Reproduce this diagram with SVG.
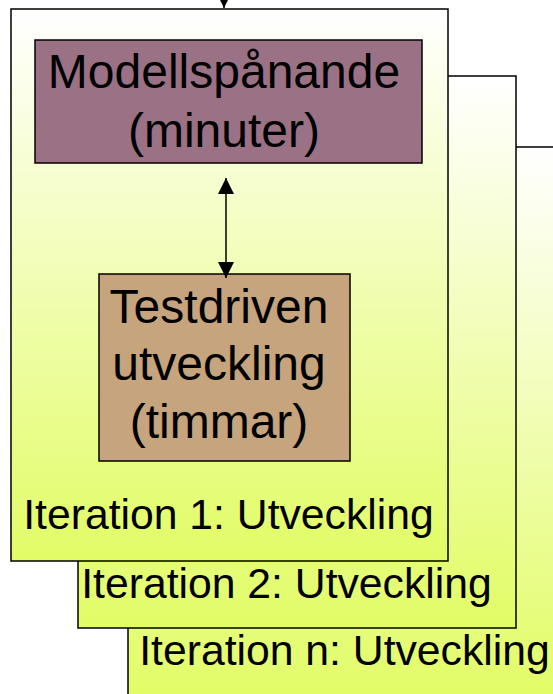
<svg xmlns="http://www.w3.org/2000/svg" width="553" height="694" viewBox="0 0 553 694">
<style>
.it{fill:url(#g);stroke:#000;stroke-width:1.5}
.t{font-family:"Liberation Sans",Arial,sans-serif;fill:#000;text-anchor:middle}
.c{stroke:#000;stroke-width:1.5;fill:none}
</style>
<defs>
<linearGradient id="g" x1="0" y1="0" x2="0" y2="1">
<stop offset="0" stop-color="#ffffff"/>
<stop offset="1" stop-color="#e2fc66"/>
</linearGradient>
<marker id="ah" viewBox="0 0 10 10" refX="10" refY="5" markerWidth="10" markerHeight="10" markerUnits="userSpaceOnUse" orient="auto-start-reverse">
<path d="M0,0 L10,5 L0,10 Z" fill="#000"/>
</marker>
<marker id="ah2" viewBox="0 0 16 16" refX="16" refY="8" markerWidth="16" markerHeight="16" markerUnits="userSpaceOnUse" orient="auto-start-reverse">
<path d="M0,0 L16,8 L0,16 Z" fill="#000"/>
</marker>
</defs>
<rect width="553" height="694" fill="#fff"/>
<g id="iteration-n">
<rect class="it" x="128" y="147" width="440" height="552"/>
<text class="t" x="344.5" y="665" font-size="42.7">Iteration n: Utveckling</text>
</g>
<g id="iteration-2">
<rect class="it" x="78" y="76" width="438" height="552"/>
<text class="t" x="286.5" y="598" font-size="42.7">Iteration 2: Utveckling</text>
</g>
<g id="iteration-1">
<rect class="it" x="11" y="9" width="437" height="552"/>
<text class="t" x="228.5" y="529" font-size="42.7">Iteration 1: Utveckling</text>
</g>
<g id="modellspanande">
<rect x="35" y="40" width="387" height="123" fill="#9b7186" stroke="#000" stroke-width="1.5"/>
<text class="t" x="224" y="88" font-size="48">Modellspånande</text>
<text class="t" x="224" y="147" font-size="48">(minuter)</text>
</g>
<g id="testdriven">
<rect x="99" y="274" width="251" height="187" fill="#c5a47e" stroke="#000" stroke-width="1.5"/>
<text class="t" x="219" y="323" font-size="48">Testdriven</text>
<text class="t" x="219" y="380" font-size="48">utveckling</text>
<text class="t" x="219" y="438" font-size="48">(timmar)</text>
</g>
<g id="connectors">
<line class="c" x1="224" y1="-20" x2="224" y2="8" marker-end="url(#ah)"/>
<line class="c" x1="226" y1="178" x2="226" y2="278" marker-start="url(#ah2)" marker-end="url(#ah2)"/>
</g>
</svg>
